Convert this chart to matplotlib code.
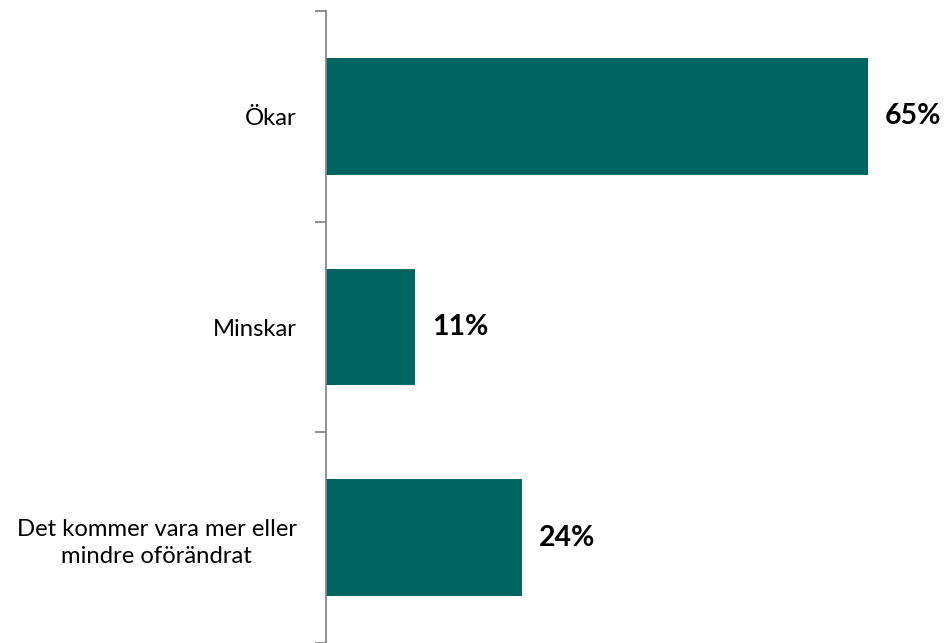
import matplotlib
matplotlib.use("Agg")
import matplotlib.pyplot as plt

categories = ["Ökar", "Minskar", "Det kommer vara mer eller\nmindre oförändrat"]
values = [65.0, 10.7, 23.5]

bar_color = "#006461"

plt.rcParams['font.family'] = ['Lato', 'DejaVu Sans']

fig = plt.figure(figsize=(9.44, 6.43), dpi=100)
ax = fig.add_axes([326 / 944, 0, 618 / 944, 632 / 643])

pos = list(range(len(categories)))
ax.barh(pos, values, height=0.555, color=bar_color, zorder=2)
ax.set_ylim(len(categories) - 0.5, -0.5)
ax.set_xlim(0, 65 * 618 / 542)

for p, v in zip(pos, values):
    ax.text(v + 2.0, p, f"{v:.0f}%", va="center", ha="left",
            fontsize=20.5, fontweight="bold", color="black")

ax.set_yticks([-0.5, 0.5, 1.5, 2.5])
ax.set_yticklabels([])
ax.set_yticks(pos, minor=True)
ax.set_yticklabels(categories, minor=True, fontsize=17.2, ha="right",
                   multialignment="center", linespacing=1.4)
ax.tick_params(axis="y", which="major", length=8, width=1.3, color="#888888")
ax.tick_params(axis="y", which="minor", length=0, pad=21)
ax.set_xticks([])

for s in ["top", "right", "bottom"]:
    ax.spines[s].set_visible(False)
ax.spines["left"].set_color("#888888")
ax.spines["left"].set_linewidth(1.3)

fig.savefig("out.png", dpi=100)
